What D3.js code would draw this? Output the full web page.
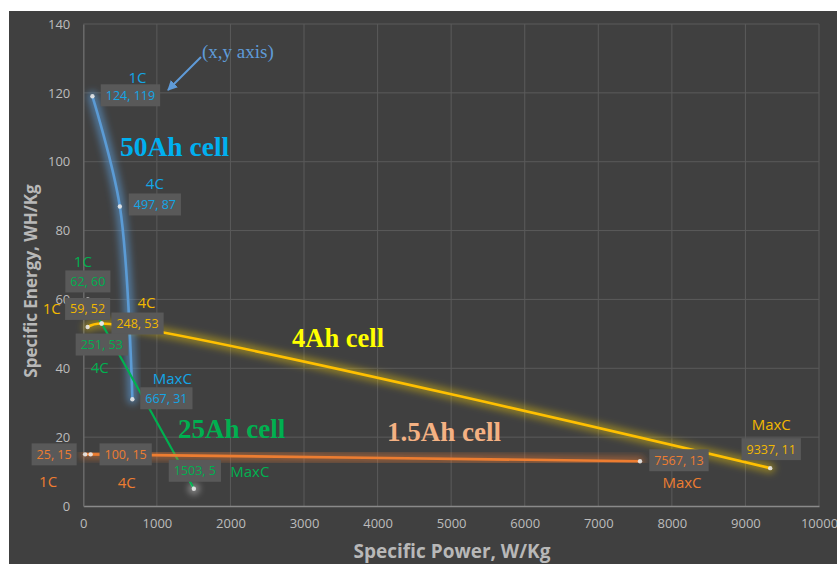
<!DOCTYPE html>
<html><head><meta charset="utf-8">
<script src="https://cdn.jsdelivr.net/npm/d3@7/dist/d3.min.js"></script>
<style>
html,body{margin:0;padding:0;background:#fff;}
svg{display:block;}
</style></head>
<body>
<script>
// ---- data ----
const rates = ["1C", "4C", "MaxC"];
const cells = ["50Ah cell", "4Ah cell", "25Ah cell", "1.5Ah cell"];
const power50 = [124, 497, 667],  energy50 = [119, 87, 31];
const power4  = [59, 248, 9337],  energy4  = [52, 53, 11];
const power25 = [62, 251, 1503],  energy25 = [60, 53, 5];
const power15 = [25, 100, 7567],  energy15 = [15, 15, 13];
const xTicks = [0,1000,2000,3000,4000,5000,6000,7000,8000,9000,10000];
const yTicks = [0,20,40,60,80,100,120,140];

// ---- style / layout ----
const W = 837, H = 564;
const series = [
  {name: cells[0], px: power50, py: energy50, line: "#5b9bd5", lab: "#13a6e6", glow: "#5b9bd5", glowW: 10, glowO: 0.6,
   box: [[38,-1],[35,-2],[34,-1]], cat: [[45,-19],[35,-23],[40,-21]]},
  {name: cells[1], px: power4, py: energy4, line: "#ffc000", lab: "#f2b800", glow: "#ffd700", glowW: 10, glowO: 0.4,
   box: [[0,-18],[36,0],[1,-19]], cat: [[-36,-18],[45,-21],[1,-44]]},
  {name: cells[2], px: power25, py: energy25, line: "#00b050", lab: "#00b050", glow: null,
   box: [[0,-18],[0,21],[1,-18]], cat: [[-5,-38],[-2,44],[56,-17]]},
  {name: cells[3], px: power15, py: energy15, line: "#ed7d31", lab: "#ed7d31", glow: "#ed7d31", glowW: 10, glowO: 0.45,
   box: [[-31,0],[35,0],[39,-1]], cat: [[-37,27],[36,28],[42,21]]}
];

const svg = d3.select("body").append("svg").attr("width", W).attr("height", H);
const defs = svg.append("defs");
const f = defs.append("filter").attr("id","blur").attr("x","-20%").attr("y","-20%").attr("width","140%").attr("height","140%");
f.append("feGaussianBlur").attr("stdDeviation", 3.5);
const f2 = defs.append("filter").attr("id","blur2").attr("x","-200%").attr("y","-200%").attr("width","500%").attr("height","500%");
f2.append("feGaussianBlur").attr("stdDeviation", 3);
defs.append("marker").attr("id","arrow").attr("viewBox","0 0 10 10").attr("refX",9).attr("refY",5)
  .attr("markerWidth",5).attr("markerHeight",5).attr("orient","auto")
  .append("path").attr("d","M0,0 L10,5 L0,10 z").attr("fill","#5f9bd8");

// background
svg.append("rect").attr("x",9).attr("y",11).attr("width",W-9).attr("height",H-11).attr("fill","#404040");

const x = d3.scaleLinear().domain([0,10000]).range([83.3, 819]);
const y = d3.scaleLinear().domain([0,140]).range([506, 24]);

// gridlines
const grid = svg.append("g");
grid.selectAll(".gx").data(xTicks.slice(1)).join("line")
  .attr("x1",d=>x(d)).attr("x2",d=>x(d)).attr("y1",y(0)).attr("y2",y(140))
  .attr("stroke","#5a5a5a").attr("stroke-width",1);
grid.selectAll(".gy").data(yTicks.slice(1)).join("line")
  .attr("x1",x(0)).attr("x2",x(10000)).attr("y1",d=>y(d)).attr("y2",d=>y(d))
  .attr("stroke","#5a5a5a").attr("stroke-width",1);

// axes
const font = "'Open Sans', 'Noto Sans', sans-serif";
const xAxis = svg.append("g").attr("transform",`translate(0,${y(0)})`)
  .call(d3.axisBottom(x).tickValues(xTicks).tickSize(0).tickPadding(13).tickFormat(d3.format("d")));
const yAxis = svg.append("g").attr("transform",`translate(${x(0)},0)`)
  .call(d3.axisLeft(y).tickValues(yTicks).tickSize(0).tickPadding(13));
[xAxis, yAxis].forEach(a => {
  a.select(".domain").attr("stroke","#8a8a8a").attr("stroke-width",1.5);
  a.selectAll("text").attr("fill","#bcbcbc").style("font-family",font).style("font-size","13px");
});
yAxis.select(".domain").attr("stroke","#6a6a6a");

svg.append("text").attr("x", 452).attr("y", 558).attr("text-anchor","middle")
  .style("font-family",font).style("font-size","19px").style("font-weight","bold")
  .attr("fill","#b8b8b8").text("Specific Power, W/Kg");
svg.append("text").attr("transform","translate(37,281) rotate(-90)").attr("text-anchor","middle")
  .style("font-family",font).style("font-size","17px").style("font-weight","bold")
  .attr("fill","#b8b8b8").text("Specific Energy, WH/Kg");

// lines
const lineGen = d3.line().x(d=>x(d[0])).y(d=>y(d[1])).curve(d3.curveCatmullRom.alpha(0.5));
const gl = svg.append("g");
series.forEach(s => {
  const pts = s.px.map((p,i)=>[p, s.py[i]]);
  if (s.glow) {
    gl.append("path").attr("d", lineGen(pts)).attr("fill","none").attr("stroke", s.glow)
      .attr("stroke-width", s.glowW).attr("stroke-opacity", s.glowO).attr("filter","url(#blur)")
      .attr("stroke-linecap","round");
  }
  gl.append("path").attr("d", lineGen(pts)).attr("fill","none").attr("stroke", s.line)
    .attr("stroke-width", s.name === cells[2] ? 2.2 : 2.6).attr("stroke-linejoin","round");
  s.pts = pts;
});
// markers
series.forEach(s => {
  s.pts.forEach((p,i) => {
    if (s.name === cells[2] && i === 2) {
      svg.append("circle").attr("cx",x(p[0])).attr("cy",y(p[1])).attr("r",6)
        .attr("fill","#ffffff").attr("opacity",0.35).attr("filter","url(#blur2)");
    }
    svg.append("circle").attr("cx",x(p[0])).attr("cy",y(p[1])).attr("r",2.2)
      .attr("fill","#e8e8e8").attr("opacity",0.9);
  });
});
// leader for 1503,5
{
  const p = series[2].pts[2];
  svg.append("line").attr("x1",x(p[0])-1).attr("y1",y(p[1])-3).attr("x2",x(p[0])-4).attr("y2",y(p[1])-8)
    .attr("stroke","#00b050").attr("stroke-width",1.5);
}

// data labels
const labG = svg.append("g");
series.forEach(s => {
  s.pts.forEach((p,i) => {
    const cx = x(p[0]) + s.box[i][0], cy = y(p[1]) + s.box[i][1];
    const g = labG.append("g");
    const r = g.append("rect").attr("fill","#595959");
    const t = g.append("text").attr("x",cx).attr("y",cy).attr("text-anchor","middle").attr("dy","0.36em")
      .style("font-family",font).style("font-size","12.5px").attr("fill", s.lab)
      .text(`${p[0]}, ${p[1]}`);
    const w = t.node().getComputedTextLength() + 10;
    r.attr("x", cx - w/2).attr("y", cy - 11).attr("width", w).attr("height", 22);
    labG.append("text").attr("x", x(p[0]) + s.cat[i][0]).attr("y", y(p[1]) + s.cat[i][1])
      .attr("text-anchor","middle").attr("dy","0.36em")
      .style("font-family",font).style("font-size","15px").attr("fill", s.lab).text(rates[i]);
  });
});

// annotations
const serif = "'Liberation Serif', 'DejaVu Serif', serif";
const ann = [
  {t: cells[0], x: 120, y: 156, c: "#00b0f0", s: 27.5},
  {t: cells[1], x: 292, y: 347, c: "#ffff00", s: 26.5},
  {t: cells[2], x: 178, y: 438, c: "#00b050", s: 27},
  {t: cells[3], x: 387, y: 441, c: "#f4b183", s: 27}
];
ann.forEach(a => {
  svg.append("text").attr("x",a.x).attr("y",a.y).style("font-family",serif).style("font-weight","bold")
    .style("font-size",a.s+"px").attr("fill",a.c).text(a.t);
});
svg.append("text").attr("x",202).attr("y",58).style("font-family",serif).style("font-size","19px")
  .attr("fill","#5f9bd8").text("(x,y axis)");
svg.append("line").attr("x1",201).attr("y1",57).attr("x2",168).attr("y2",90)
  .attr("stroke","#5f9bd8").attr("stroke-width",2).attr("marker-end","url(#arrow)");
</script>
</body></html>
